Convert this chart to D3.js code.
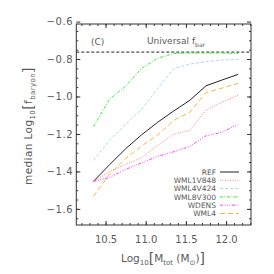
<!DOCTYPE html>
<html lang="en">
<head>
    <meta charset="UTF-8">
    <title>median baryon fraction</title>
    <script src="https://d3js.org/d3.v7.min.js"></script>
    <style>
        body { margin: 0; background: #fff; }
        text { font-family: "DejaVu Sans", sans-serif; fill: #5a5a5a; }
    </style>
</head>
<body>
    <div id="chart"></div>

    <script>
        // log10 of total mass, bin centres
        const massBins = [10.35, 10.55, 10.75, 10.95, 11.15, 11.35, 11.55, 11.75, 11.95, 12.15];

        const ref      = [-1.453, -1.364, -1.279, -1.204, -1.137, -1.077, -1.020, -0.943, -0.912, -0.882];
        const wml1v848 = [-1.453, -1.402, -1.362, -1.327, -1.260, -1.202, -1.180, -1.073, -1.030, -0.993];
        const wml4v424 = [-1.341, -1.234, -1.148, -1.068, -0.956, -0.851, -0.827, -0.814, -0.806, -0.801];
        const wml8v300 = [-1.161, -1.014, -0.945, -0.849, -0.795, -0.771, -0.768, -0.768, -0.768, -0.771];
        const wdens    = [-1.453, -1.432, -1.389, -1.354, -1.319, -1.295, -1.266, -1.210, -1.191, -1.148];
        const wml4     = [-1.533, -1.415, -1.330, -1.264, -1.205, -1.127, -1.084, -0.979, -0.955, -0.930];

        const universalFbar = -0.763;

        const xTicks = [10.5, 11.0, 11.5, 12.0];
        const yTicks = [-1.6, -1.4, -1.2, -1.0, -0.8, -0.6];

        const series = [
            {name: "REF",      values: ref,      color: "#222",    dash: null},
            {name: "WML1V848", values: wml1v848, color: "#ff7f7f", dash: "1,1.5"},
            {name: "WML4V424", values: wml4v424, color: "#a8d8f2", dash: "3,2"},
            {name: "WML8V300", values: wml8v300, color: "#3ee83e", dash: "3,1.5,1,1.5"},
            {name: "WDENS",    values: wdens,    color: "#ff3cff", dash: "3,1.5,1,1.5,1,1.5,1,1.5"},
            {name: "WML4",     values: wml4,     color: "#ffb43c", dash: "5,3"}
        ];

        const width = 274, height = 274;
        const pLeft = 76.3, pRight = 251, pTop = 24, pBottom = 225;

        const x = d3.scaleLinear().domain([10.136, 12.31]).range([pLeft, pRight]);
        const y = d3.scaleLinear().domain([-1.686, -0.613]).range([pBottom, pTop]);

        const svg = d3.select("#chart").append("svg")
            .attr("width", width)
            .attr("height", height);

        // axes: major ticks labelled, minor ticks plain, all pointing inward
        const minorX = d3.range(10.2, 12.31, 0.1);
        const minorY = d3.range(-1.65, -0.6, 0.05);

        function addAxis(axisFn, scale, pos, major, minor, labels) {
            const g = svg.append("g").attr("transform", pos);
            g.call(axisFn(scale).tickValues(minor).tickSize(-2).tickFormat(""));
            const m = svg.append("g").attr("transform", pos);
            m.call(axisFn(scale).tickValues(major).tickSize(-4).tickPadding(7)
                .tickFormat(labels ? d3.format(".1f") : ""));
            [g, m].forEach(a => {
                a.select(".domain").remove();
                a.selectAll("line").attr("stroke", "#333");
            });
            return m;
        }

        const bx = addAxis(d3.axisBottom, x, `translate(0,${pBottom})`, xTicks, minorX, true);
        bx.selectAll("text").attr("font-size", 10).attr("dy", "1.05em");
        addAxis(d3.axisTop, x, `translate(0,${pTop})`, xTicks, minorX, false);
        const ly = addAxis(d3.axisLeft, y, `translate(${pLeft},0)`, yTicks, minorY, true);
        ly.selectAll("text").attr("font-size", 10).attr("letter-spacing", 0.6).attr("x", -3);
        addAxis(d3.axisRight, y, `translate(${pRight},0)`, yTicks, minorY, false);

        svg.append("rect")
            .attr("x", pLeft).attr("y", pTop)
            .attr("width", pRight - pLeft).attr("height", pBottom - pTop)
            .attr("fill", "none").attr("stroke", "#333").attr("stroke-width", 1);

        // universal baryon fraction
        svg.append("line")
            .attr("x1", pLeft).attr("x2", pRight)
            .attr("y1", y(universalFbar)).attr("y2", y(universalFbar))
            .attr("stroke", "#222").attr("stroke-dasharray", "3,2");

        const line = d3.line()
            .x((d, i) => x(massBins[i]))
            .y(d => y(d));

        svg.selectAll(".series")
            .data(series)
            .enter()
            .append("path")
            .attr("class", "series")
            .attr("d", d => line(d.values))
            .attr("fill", "none")
            .attr("stroke", d => d.color)
            .attr("stroke-width", 1)
            .attr("stroke-dasharray", d => d.dash);

        // legend
        const legend = svg.selectAll(".legend")
            .data(series)
            .enter()
            .append("g")
            .attr("class", "legend")
            .attr("transform", (d, i) => `translate(0,${172 + i * 8.3})`);

        legend.append("text")
            .attr("x", 216)
            .attr("dy", "0.35em")
            .attr("text-anchor", "end")
            .attr("font-size", 7.5)
            .text(d => d.name);

        legend.append("line")
            .attr("x1", 220).attr("x2", 239)
            .attr("stroke", d => d.color)
            .attr("stroke-width", 1)
            .attr("stroke-dasharray", d => d.dash);

        svg.append("text")
            .attr("x", 91).attr("y", 45)
            .attr("font-size", 9)
            .text("(C)");

        const uni = svg.append("text")
            .attr("x", 147).attr("y", 44)
            .attr("font-size", 9);
        uni.append("tspan").text("Universal f");
        uni.append("tspan").attr("font-size", 6).attr("dy", 2.5).text("bar");

        // x label
        const xl = svg.append("text")
            .attr("x", 163).attr("y", 262)
            .attr("text-anchor", "middle")
            .attr("font-size", 10.5);
        xl.append("tspan").text("Log");
        xl.append("tspan").attr("font-size", 7).attr("dy", 3).text("10");
        xl.append("tspan").attr("font-size", 14).attr("dy", -2).text("[");
        xl.append("tspan").attr("dy", -1).text("M");
        xl.append("tspan").attr("font-size", 7).attr("dy", 3).text("tot");
        xl.append("tspan").attr("dy", -3).text(" (M");
        xl.append("tspan").attr("font-size", 7).attr("dy", 3).text("⊙");
        xl.append("tspan").attr("dy", -3).text(")");
        xl.append("tspan").attr("font-size", 14).attr("dy", 1).text("]");

        // y label
        const yl = svg.append("text")
            .attr("transform", "translate(32,126) rotate(-90)")
            .attr("text-anchor", "middle")
            .attr("font-size", 10.5)
            .attr("letter-spacing", 0.4);
        yl.append("tspan").text("median Log");
        yl.append("tspan").attr("font-size", 7).attr("dy", 3).text("10");
        yl.append("tspan").attr("font-size", 14).attr("dy", -2).text("[");
        yl.append("tspan").attr("dy", -1).text("f");
        yl.append("tspan").attr("font-size", 7).attr("dy", 3).text("baryon");
        yl.append("tspan").attr("font-size", 14).attr("dy", -2).text("]");
    </script>
</body>
</html>
